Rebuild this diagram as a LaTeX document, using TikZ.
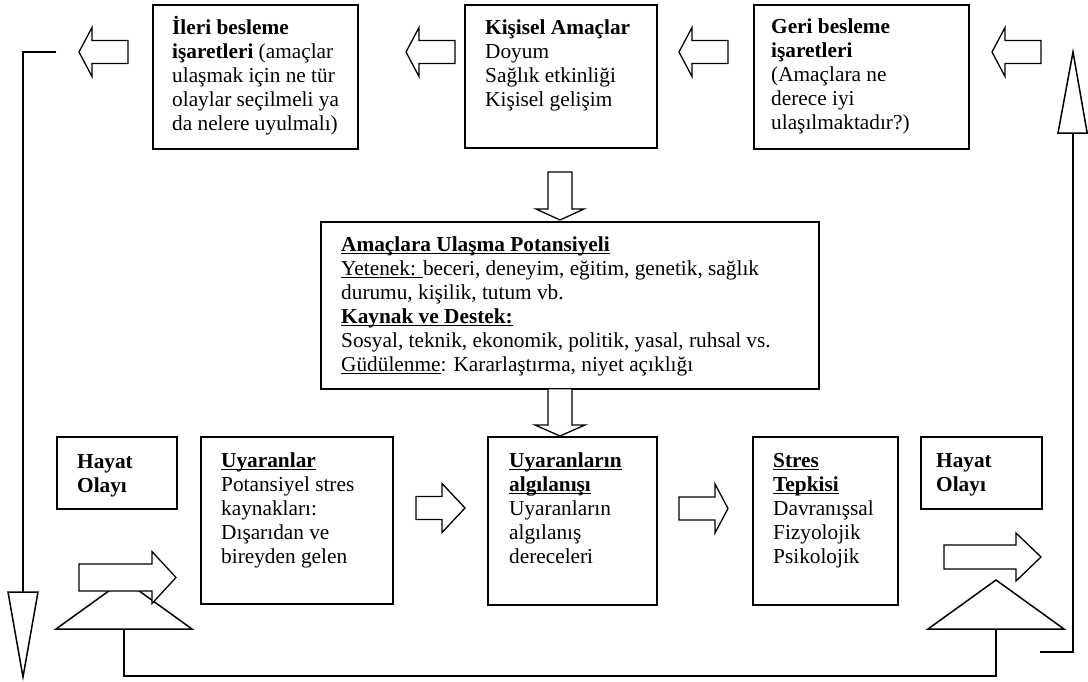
\documentclass[tikz,border=0pt]{standalone}
\usepackage{fontspec}
\setmainfont{Liberation Serif}
% underline drawn just below the baseline, through the descenders
\newcommand\ulrule[3]{\setbox0\hbox{#3}\rlap{\rule[#1]{\wd0}{#2}}\box0}
\newcommand\ulb[1]{\ulrule{-3.2pt}{1.7pt}{\bfseries #1}}
\newcommand\ulr[1]{\ulrule{-2.8pt}{1.1pt}{#1}}
% fixed height of the first line, so every text block starts 20pt above its first baseline
\newcommand\fl{\rule{0pt}{20pt}}
\begin{document}
\begin{tikzpicture}[x=1pt,y=-1pt,
  box/.style={draw, line width=1.6pt, inner sep=0pt, anchor=north west},
  txt/.style={inner sep=0pt, anchor=north west, align=left,
    font=\fontsize{21.3}{24}\selectfont},
  blk/.style={draw, line width=1.3pt, line join=miter, fill=white},
  link/.style={draw, line width=2.2pt, line join=miter},
  tri/.style={draw, line width=1.5pt, line join=miter, fill=white},
  larr/.pic={\draw[blk] (0,0) -- (13,-24.5) -- (13,-11.5) -- (49,-11.5)
    -- (49,11.5) -- (13,11.5) -- (13,24.5) -- cycle;}]
\useasboundingbox (0,0) rectangle (1088,681);

% ---------- top row ----------
\node[box, minimum width=205pt, minimum height=144pt] (ileri) at (152,4) {};
\node[box, minimum width=192pt, minimum height=143pt] (amac) at (464,4) {};
\node[box, minimum width=215pt, minimum height=144pt] (geri) at (753,4) {};

\node[txt] (tileri) at (172,14) {\fl\textbf{İleri besleme}\\
  \textbf{işaretleri} (amaçlar\\ ulaşmak için ne tür\\ olaylar seçilmeli ya\\ da nelere uyulmalı)};
\node[txt] (tamac) at (485,14) {\fl\textbf{Kişisel Amaçlar}\\ Doyum\\ Sağlık etkinliği\\ Kişisel gelişim};
\node[txt] (tgeri) at (771,13) {\fl\textbf{Geri besleme}\\ \textbf{işaretleri}\\
  (Amaçlara ne\\ derece iyi\\ ulaşılmaktadır?)};

% left-pointing block arrows
\pic at (79,52) {larr};
\pic at (406,52) {larr};
\pic at (679,52) {larr};
\pic at (992,52) {larr};

% ---------- middle box ----------
\draw[blk] (560,220) -- (536,209) -- (548,209) -- (548,172) -- (572,172) -- (572,209) -- (584,209) -- cycle;
\node[box, minimum width=498pt, minimum height=167pt] (pot) at (320,221) {};
\node[txt] (tpot) at (341,231) {\fl\ulb{Amaçlara Ulaşma Potansiyeli}\\
  \ulr{Yetenek: }beceri, deneyim, eğitim, genetik, sağlık\\
  durumu, kişilik, tutum vb.\\
  \ulb{Kaynak ve Destek:}\\
  Sosyal, teknik, ekonomik, politik, yasal, ruhsal vs.\\
  \ulr{Güdülenme}: Kararlaştırma, niyet açıklığı};
\draw[blk] (560,436) -- (535,425) -- (548,425) -- (548,388.8) -- (572,388.8) -- (572,425) -- (585,425) -- cycle;

% ---------- bottom row ----------
\node[box, minimum width=120pt, minimum height=72pt] (hay1) at (56,436) {};
\node[box, minimum width=192pt, minimum height=167pt] (uyar) at (200,436) {};
\node[box, minimum width=169pt, minimum height=168pt] (alg) at (487,436) {};
\node[box, minimum width=145pt, minimum height=168pt] (stres) at (752,436) {};
\node[box, minimum width=121pt, minimum height=72pt] (hay2) at (920,436) {};

\node[txt] (thay1) at (77,448) {\fl\textbf{Hayat}\\ \textbf{Olayı}};
\node[txt] (tuyar) at (221,447) {\fl\ulb{Uyaranlar}\\ Potansiyel stres\\ kaynakları:\\ Dışarıdan ve\\ bireyden gelen};
\node[txt] (talg) at (509,447) {\fl\ulb{Uyaranların}\\ \ulb{algılanışı}\\ Uyaranların\\ algılanış\\ dereceleri};
\node[txt] (tstres) at (773,447) {\fl\ulb{Stres}\\ \ulb{Tepkisi}\\ Davranışsal\\ Fizyolojik\\ Psikolojik};
\node[txt] (thay2) at (936,447) {\fl\textbf{Hayat}\\ \textbf{Olayı}};

% right-pointing block arrows
\draw[blk] (416,496.5) -- (442,496.5) -- (442,483.5) -- (465,508) -- (442,532.5) -- (442,519.5) -- (416,519.5) -- cycle;
\draw[blk] (679,497) -- (715,497) -- (715,484) -- (728,508.5) -- (715,533) -- (715,520) -- (679,520) -- cycle;

% ---------- feedback loop ----------
\coordinate (tipL) at (124,580);
\coordinate (baseL) at (124,629);
\coordinate (tipR) at (996,580);
\coordinate (baseR) at (996,629);
\draw[link] (baseL) -- ++(0,47) -| (baseR);
\draw[tri] (tipL) -- (192,629) -- (56,629) -- cycle;
\draw[tri] (tipR) -- (1064,629) -- (928,629) -- cycle;

\draw[blk] (79,564) -- (152,564) -- (152,551.5) -- (176,577.5) -- (152,603.5) -- (152,591) -- (79,591) -- cycle;
\draw[blk] (944,545) -- (1016,545) -- (1016,533) -- (1041,557) -- (1016,581) -- (1016,569) -- (944,569) -- cycle;

% outer return lines with their tall arrow heads
\coordinate (fwdEnd) at (56,52);
\coordinate (downTip) at (23,592);
\draw[link] (fwdEnd) -| (downTip);
\draw[tri] (8,592) -- (38,592) -- (23,677) -- cycle;

\coordinate (backEnd) at (1040,652);
\coordinate (upTip) at (1073,133);
\draw[link] (backEnd) -| (upTip);
\draw[tri] (1058,133) -- (1087.2,133) -- (1073,52) -- cycle;
\end{tikzpicture}
\end{document}
